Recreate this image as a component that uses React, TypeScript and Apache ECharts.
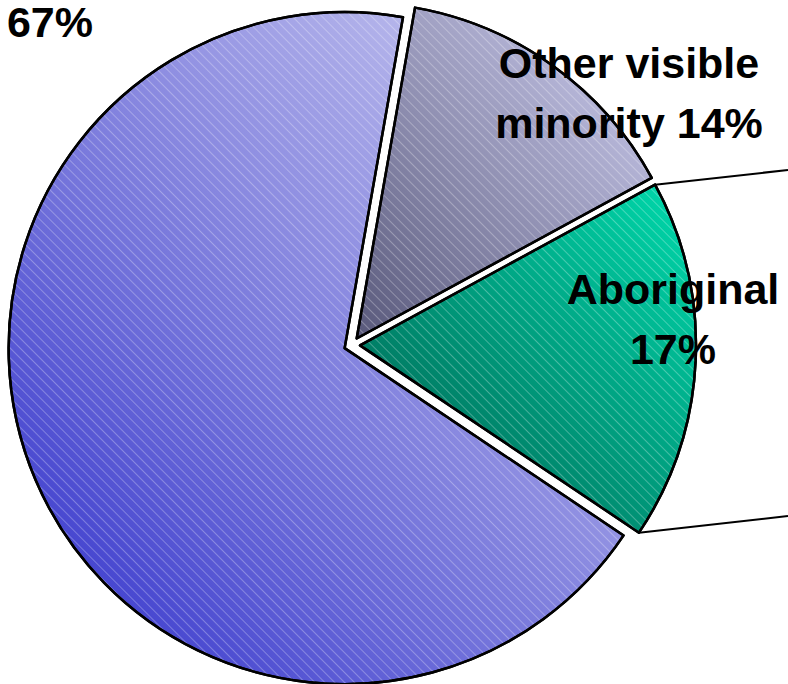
import React, { useEffect, useRef } from "react";
import * as echarts from "echarts";

// ---- data ----
const categories = ["Other visible minority", "Aboriginal", "Not a visible minority"];
const values = [14, 17, 67];
const labelTemplates = ["Other visible\nminority {v}%", "Aboriginal\n{v}%", "{v}%"];

// ---- styling ----
const gradients: [string, string][] = [
  ["#58587a", "#d2d2f4"],
  ["#005a4a", "#00dcae"],
  ["#2e2eca", "#d3d3f2"],
];
const labelPos: [number, number][] = [
  [629, 93],
  [673, 319],
  [50, 22],
];
const labelLineHeights = [60, 60, 40];
const CENTER: [number, number] = [352, 345];
const RADIUS = 336;
const START = 80;
const OFFSET = 8;
const CONNECTOR_ENDS: [number, number][] = [
  [788, 170],
  [788, 516],
];

export default function App() {
  const ref = useRef<HTMLDivElement>(null);
  useEffect(() => {
    if (!ref.current) return;
    const chart = echarts.init(ref.current, undefined, { renderer: "svg" });
    const total = values.reduce((a, b) => a + b, 0);

    // geometry of the "Aboriginal" slice for the pie-of-pie connector lines
    const idx = 1;
    const before = values.slice(0, idx).reduce((a, b) => a + b, 0);
    const a0 = START - (before / total) * 360;
    const a1 = a0 - (values[idx] / total) * 360;
    const mid = ((a0 + a1) / 2) * (Math.PI / 180);
    const sx = CENTER[0] + OFFSET * Math.cos(mid);
    const sy = CENTER[1] - OFFSET * Math.sin(mid);
    const corner = (a: number): [number, number] => [
      sx + RADIUS * Math.cos((a * Math.PI) / 180),
      sy - RADIUS * Math.sin((a * Math.PI) / 180),
    ];
    const c0 = corner(a0);
    const c1 = corner(a1);

    const decal = {
      symbol: "rect",
      symbolSize: 1,
      dashArrayX: [1, 0],
      dashArrayY: [1, 6],
      rotation: Math.PI / 4,
      color: "rgba(255,255,255,0.28)",
    };

    const labelTexts = values.map((v, i) => ({
      type: "text",
      z: 100,
      style: {
        text: labelTemplates[i].replace("{v}", String(v)),
        x: labelPos[i][0],
        y: labelPos[i][1],
        align: "center",
        verticalAlign: "middle",
        fill: "#000",
        fontWeight: "bold",
        fontSize: 43,
        lineHeight: labelLineHeights[i],
        fontFamily: "Liberation Sans, Arial, sans-serif",
      },
    }));

    chart.setOption({
      animation: false,
      series: [
        {
          type: "pie",
          center: CENTER,
          radius: RADIUS,
          startAngle: START,
          clockwise: true,
          selectedMode: "multiple",
          selectedOffset: OFFSET,
          avoidLabelOverlap: false,
          emphasis: { disabled: true },
          itemStyle: { borderColor: "#000", borderWidth: 2.5 },
          label: { show: false },
          labelLine: { show: false },
          data: values.map((v, i) => ({
            value: v,
            name: categories[i],
            selected: true,
            itemStyle: {
              color: new echarts.graphic.LinearGradient(0, 1, 1, 0, [
                { offset: 0, color: gradients[i][0] },
                { offset: 1, color: gradients[i][1] },
              ]),
              decal,
            },
          })),
        },
      ],
      graphic: [
        {
          type: "line",
          z: 100,
          shape: { x1: c0[0], y1: c0[1], x2: CONNECTOR_ENDS[0][0], y2: CONNECTOR_ENDS[0][1] },
          style: { stroke: "#000", lineWidth: 2 },
        },
        {
          type: "line",
          z: 100,
          shape: { x1: c1[0], y1: c1[1], x2: CONNECTOR_ENDS[1][0], y2: CONNECTOR_ENDS[1][1] },
          style: { stroke: "#000", lineWidth: 2 },
        },
        ...labelTexts,
      ],
    });
    return () => chart.dispose();
  }, []);
  return (
    <div
      ref={ref}
      style={{ position: "absolute", left: 0, top: 0, width: 788, height: 684, background: "#fff" }}
    />
  );
}
